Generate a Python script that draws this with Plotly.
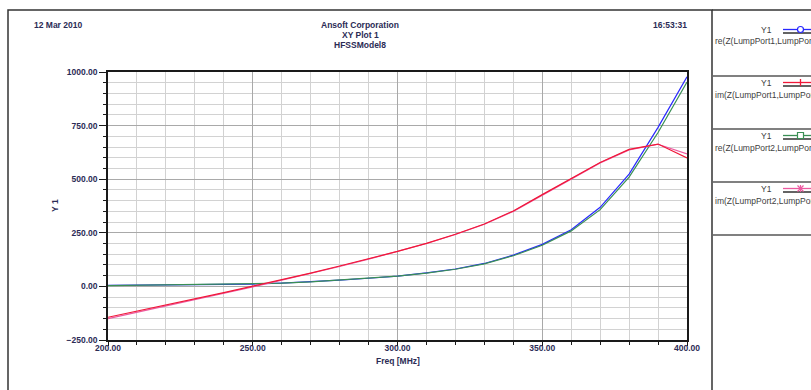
import plotly.graph_objects as go

# Frequency sweep (MHz) and port impedances (ohm)
freq_mhz = [200, 210, 220, 230, 240, 250, 260, 270, 280, 290, 300,
            310, 320, 330, 340, 350, 360, 370, 380, 390, 400]
re_z_port1 = [5, 6, 7, 8, 9, 11, 15, 21, 29, 38, 48,
              63, 81, 107, 146, 196, 264, 369, 524, 742, 978]
im_z_port1 = [-144, -116, -87, -58, -29, 1, 31, 62, 95, 128, 163,
              201, 243, 291, 352, 428, 505, 578, 639, 664, 599]
re_z_port2 = [4, 6, 7, 8, 9, 11, 15, 21, 29, 38, 48,
              62, 80, 105, 143, 192, 259, 358, 510, 718, 953]
im_z_port2 = [-150, -121, -92, -62, -32, -2, 29, 60, 93, 127, 162,
              200, 242, 290, 350, 426, 503, 576, 637, 663, 618]

series_names = ["re(Z(LumpPort1,LumpPort1))", "im(Z(LumpPort1,LumpPort1))",
                "re(Z(LumpPort2,LumpPort2))", "im(Z(LumpPort2,LumpPort2))"]
series_colors = ["#2828ff", "#f01838", "#3a8f55", "#ec5aa0"]

x_ticks = [200, 250, 300, 350, 400]
y_ticks = [-250, 0, 250, 500, 750, 1000]

W, H = 811, 390
ML, MR, MT, MB = 108, 124, 72, 50
PW, PH = W - ML - MR, H - MT - MB


def px(x):
    return (x - ML) / PW


def py(y):
    return (H - MB - y) / PH


FONT = "Liberation Sans, Arial, sans-serif"
TXT = "#2b2b55"

fig = go.Figure()
# draw order: real parts, then imaginary parts
for idx in (0, 2, 3, 1):
    yvals = [re_z_port1, im_z_port1, re_z_port2, im_z_port2][idx]
    fig.add_trace(go.Scatter(
        x=freq_mhz, y=yvals, mode="lines", name=series_names[idx],
        line=dict(color=series_colors[idx], width=1.2),
        showlegend=False, hoverinfo="x+y"))

axis_common = dict(
    showline=True, mirror=True, linecolor="#1a1a1a", linewidth=1.5,
    showgrid=True, gridcolor="#a9a9a9", gridwidth=1.2,
    zeroline=False, ticks="outside", tickcolor="#1a1a1a",
    tickformat=".2f",
    tickfont=dict(family=FONT, size=8.5, color=TXT, weight="bold"),
)

fig.update_xaxes(
    range=[200, 400], tickvals=x_ticks, ticklen=4, ticklabelstandoff=-5,
    minor=dict(dtick=10, ticklen=3, ticks="outside", tickcolor="#1a1a1a",
               showgrid=True, gridcolor="#d2d2d2", gridwidth=1),
    **axis_common)
fig.update_yaxes(
    range=[-250, 1000], tickvals=y_ticks, ticklen=7,
    minor=dict(dtick=50, ticklen=3, ticks="outside", tickcolor="#1a1a1a",
               showgrid=True, gridcolor="#d2d2d2", gridwidth=1),
    **axis_common)

shapes = []
# outer page frame and legend panel
shapes.append(dict(type="rect", xref="paper", yref="paper",
                   x0=px(8), x1=px(712), y0=py(400), y1=py(10),
                   line=dict(color="#333333", width=1.5), layer="below"))
shapes.append(dict(type="line", xref="paper", yref="paper",
                   x0=px(712), x1=px(815), y0=py(10), y1=py(10),
                   line=dict(color="#333333", width=1.5)))
for sep in (76, 129, 182, 235):
    shapes.append(dict(type="line", xref="paper", yref="paper",
                       x0=px(713), x1=px(815), y0=py(sep), y1=py(sep),
                       line=dict(color="#808080", width=2)))

annotations = []


def text(x, y, s, anchor="center", size=8.5, color=TXT, bold=True, angle=0):
    annotations.append(dict(
        x=px(x), y=py(y), xref="paper", yref="paper", text=s,
        showarrow=False, xanchor=anchor, yanchor="middle", textangle=angle,
        font=dict(family=FONT, size=size, color=color,
                  weight="bold" if bold else "normal")))


text(32, 25, "12 Mar 2010", anchor="left")
text(689, 25, "16:53:31", anchor="right")
text(360, 25, "Ansoft Corporation")
text(360, 35, "XY Plot 1")
text(360, 45, "HFSSModel8")
text(55, 206, "Y 1", angle=-90)
text(398, 361, "Freq [MHz]")

# legend rows
row_y = [29.5, 82.5, 135.5, 188.5]
for i, ry in enumerate(row_y):
    col = series_colors[i]
    text(774, ry, "Y1", anchor="right", size=8.5, color="#404040", bold=False)
    text(713, ry + 12, series_names[i], anchor="left", size=8.5,
         color="#404040", bold=False)
    shapes.append(dict(type="line", xref="paper", yref="paper",
                       x0=px(783), x1=px(815), y0=py(ry), y1=py(ry),
                       line=dict(color=col, width=1.3)))
    shapes.append(dict(type="line", xref="paper", yref="paper",
                       x0=px(783), x1=px(815), y0=py(ry + 3.5), y1=py(ry + 3.5),
                       line=dict(color="#303030", width=1.5)))
    mx = 800.5
    if i == 0:
        shapes.append(dict(type="circle", xref="paper", yref="paper",
                           x0=px(mx - 3), x1=px(mx + 3), y0=py(ry + 3), y1=py(ry - 3),
                           fillcolor="white", line=dict(color=col, width=1.2)))
    elif i == 1:
        shapes.append(dict(type="line", xref="paper", yref="paper",
                           x0=px(mx), x1=px(mx), y0=py(ry + 3.5), y1=py(ry - 3.5),
                           line=dict(color=col, width=1.3)))
    elif i == 2:
        shapes.append(dict(type="rect", xref="paper", yref="paper",
                           x0=px(mx - 3), x1=px(mx + 3), y0=py(ry + 3), y1=py(ry - 3),
                           fillcolor="white", line=dict(color=col, width=1.2)))
    else:
        for dx0, dy0, dx1, dy1 in ((0, -3.5, 0, 3.5), (-3, -3, 3, 3), (-3, 3, 3, -3)):
            shapes.append(dict(type="line", xref="paper", yref="paper",
                               x0=px(mx + dx0), x1=px(mx + dx1),
                               y0=py(ry + dy0), y1=py(ry + dy1),
                               line=dict(color=col, width=1.2)))

fig.update_layout(
    width=W, height=H,
    margin=dict(l=ML, r=MR, t=MT, b=MB, autoexpand=False),
    paper_bgcolor="white", plot_bgcolor="white",
    shapes=shapes, annotations=annotations, showlegend=False,
)

fig.write_html("out.html")
